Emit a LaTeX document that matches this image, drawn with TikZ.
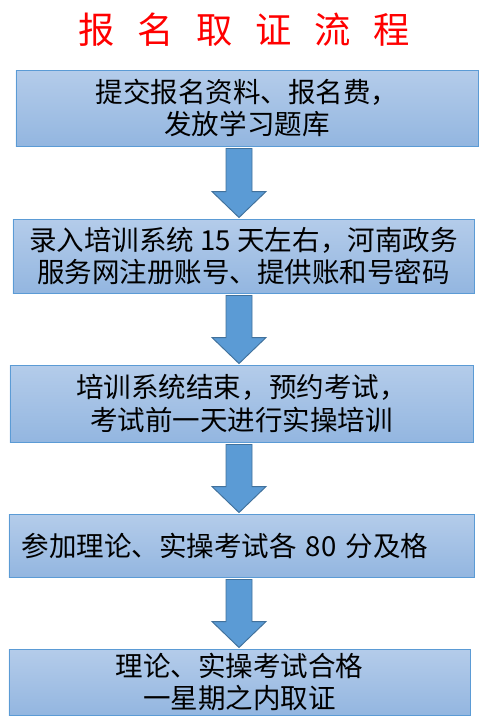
\documentclass[tikz,border=0pt]{standalone}
\usepackage{fontspec}
\usetikzlibrary{calc, positioning}
\newfontfamily\cjk{Noto Sans CJK SC}
\definecolor{boxtop}{HTML}{B4CCEA}
\definecolor{boxbot}{HTML}{93B6E0}
\definecolor{boxstroke}{HTML}{5B9BD5}
\definecolor{arrowfill}{HTML}{5B9BD5}
\definecolor{arrowstroke}{HTML}{41719C}
\definecolor{titlered}{HTML}{FF0000}
\newcommand{\tgap}{\hspace{0.68cm}}
% block arrow from the bottom of #1 to the top of #2
\newcommand{\flowarrow}[2]{%
  \draw[blockarrow] let \p1=($(axis |- #1.south)+(0,2)$), \p2=($(axis |- #2.north)+(0,-1)$) in
    (\x1-0.39cm,\y1) -- (\x1+0.39cm,\y1) -- (\x1+0.39cm,\y2+0.78cm) -- (\x1+0.81cm,\y2+0.78cm)
    -- (\x2,\y2) -- (\x1-0.81cm,\y2+0.78cm) -- (\x1-0.39cm,\y2+0.78cm) -- cycle;}

\begin{document}
\begin{tikzpicture}[
    x=0.03cm, y=-0.03cm,
    every node/.style={font=\cjk\fontsize{23.5}{28}\selectfont},
    stepbox/.style={draw=boxstroke, line width=0.8pt, top color=boxtop, bottom color=boxbot, align=center, inner sep=2pt},
    blockarrow/.style={draw=arrowstroke, line width=0.8pt, fill=arrowfill, line join=miter}
]
\useasboundingbox (0,0) rectangle (487,719);

\node[text=titlered, font=\cjk\fontsize{31}{36}\selectfont] (title) at (244,30)
    {报\tgap 名\tgap 取\tgap 证\tgap 流\tgap 程};

\node[stepbox, minimum width=13.86cm, minimum height=2.28cm] (apply) at (247,108) {%
    提交报名资料、报名费，\\
    发放学习题库
};

\node[stepbox, minimum width=13.83cm, minimum height=2.22cm] (enrol) at (243.5,256) {%
    录入培训系统 15 天左右，河南政务\\
    服务网注册账号、提供账和号密码
};

\node[stepbox, minimum width=13.89cm, minimum height=2.31cm] (book) at (241.5,403.5) {%
    培训系统结束，预约考试，\\
    考试前一天进行实操培训
};

\node[stepbox, minimum width=13.95cm, minimum height=1.89cm, text width=13.2cm, align=left] (exam) at (241.5,545.5) {%
    参加理论、实操考试各 80 分及格
};

\node[stepbox, minimum width=13.83cm, minimum height=1.98cm] (cert) at (239.5,682) {%
    理论、实操考试合格\\
    一星期之内取证
};

% arrows between the steps
\coordinate (axis) at (239,0);
\flowarrow{apply}{enrol}
\flowarrow{enrol}{book}
\flowarrow{book}{exam}
\flowarrow{exam}{cert}

\end{tikzpicture}
\end{document}
